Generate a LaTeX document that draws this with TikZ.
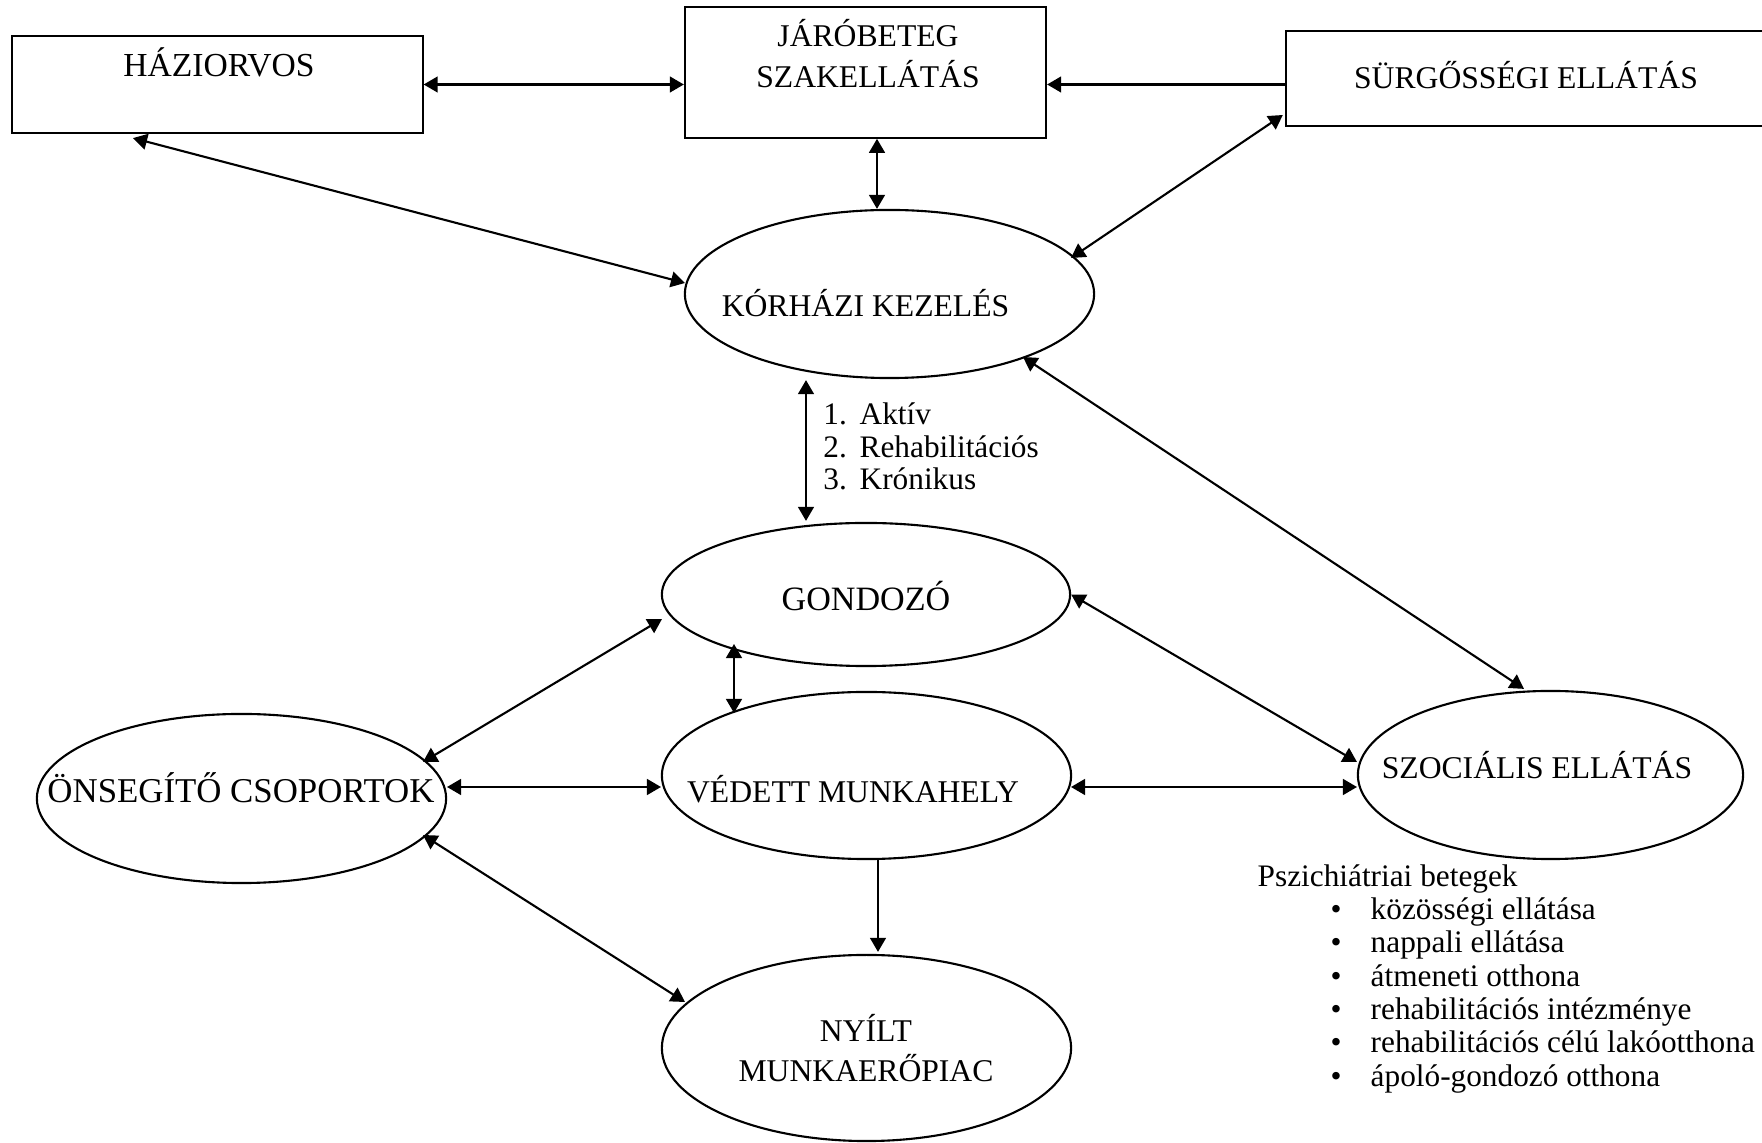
\documentclass[tikz,border=0pt]{standalone}
\usepackage{fontspec}
\setmainfont{Liberation Serif}
\usetikzlibrary{shapes.geometric,arrows.meta,calc}
\begin{document}
\begin{tikzpicture}[x=0.01cm,y=-0.01cm,
  box/.style={draw, line width=0.6pt, rectangle, inner sep=0pt},
  oval/.style={draw, line width=0.6pt, ellipse, inner sep=0pt},
  title/.style={font=\fontsize{9}{11}\selectfont, inner sep=0pt, anchor=base},
  bigtitle/.style={title, font=\fontsize{#1}{11}\selectfont},
  body/.style={font=\fontsize{8.9}{11}\selectfont, inner sep=0pt, anchor=base west},
  onearr/.style={line width=0.6pt, -{Triangle[length=4pt,width=4.5pt]}},
  twoarr/.style={line width=0.6pt, {Triangle[length=4pt,width=4.5pt]}-{Triangle[length=4pt,width=4.5pt]}}
]
\useasboundingbox (0,0) rectangle (1762,1143);

% boxes
\node[box, minimum width=4.1cm, minimum height=0.97cm] (haz) at (217.5,84.5) {};
\node[bigtitle=9.55] (hazt) at (219,77) {HÁZIORVOS};
\node[box, minimum width=3.61cm, minimum height=1.304cm] (jar) at (865.5,72.5) {};
\node[title] (jart1) at (868,46.7) {JÁRÓBETEG};
\node[title] (jart2) at (868,87.3) {SZAKELLÁTÁS};
\node[box, minimum width=4.84cm, minimum height=0.95cm] (sur) at (1528,78.5) {};
\node[title] (surt) at (1526,89) {SÜRGŐSSÉGI ELLÁTÁS};

% ellipses
\node[oval, minimum width=4.09cm, minimum height=1.68cm] (kor) at (889.5,294) {};
\node[title] (kort) at (865.5,317) {KÓRHÁZI KEZELÉS};
\node[oval, minimum width=4.08cm, minimum height=1.43cm] (gon) at (866,594.5) {};
\node[bigtitle=9.7] (gont) at (866,611) {GONDOZÓ};
\node[oval, minimum width=4.09cm, minimum height=1.67cm] (ved) at (866.5,775.5) {};
\node[title] (vedt) at (853,803) {VÉDETT MUNKAHELY};
\node[oval, minimum width=4.09cm, minimum height=1.69cm] (ons) at (241.5,798.5) {};
\node[bigtitle=9.9] (onst) at (241,803) {ÖNSEGÍTŐ CSOPORTOK};
\node[oval, minimum width=3.85cm, minimum height=1.68cm] (szo) at (1550.5,775) {};
\node[title] (szot) at (1537,779) {SZOCIÁLIS ELLÁTÁS};
\node[oval, minimum width=4.09cm, minimum height=1.86cm] (nyi) at (866.5,1048) {};
\node[title] (nyit1) at (866,1042) {NYÍLT};
\node[title] (nyit2) at (866,1082) {MUNKAERŐPIAC};

% lists
\node[body] (l1) at (822.7,425) {\makebox[0.363cm][l]{1.}Aktív};
\node[body] (l2) at (822.7,458) {\makebox[0.363cm][l]{2.}Rehabilitációs};
\node[body] (l3) at (822.7,490) {\makebox[0.363cm][l]{3.}Krónikus};

\node[body] (p0) at (1257,886.7) {Pszichiátriai betegek};
\node[body] (p1) at (1330,920) {\makebox[0.40cm][l]{•}közösségi ellátása};
\node[body] (p2) at (1330,953) {\makebox[0.40cm][l]{•}nappali ellátása};
\node[body] (p3) at (1330,987) {\makebox[0.40cm][l]{•}átmeneti otthona};
\node[body] (p4) at (1330,1020) {\makebox[0.40cm][l]{•}rehabilitációs intézménye};
\node[body] (p5) at (1330,1053) {\makebox[0.40cm][l]{•}rehabilitációs célú lakóotthona};
\node[body] (p6) at (1330,1087) {\makebox[0.40cm][l]{•}ápoló-gondozó otthona};

% connectors
\draw[twoarr] (haz.east) -- (haz.east -| jar.west);
\draw[onearr] (sur.west |- haz.east) -- (haz.east -| jar.east);
\draw[twoarr] ($(jar.south)+(11.5,0)$) -- ($(kor.north)+(-12.5,0)$);
\draw[twoarr] ($(haz.south)+(-84.5,4)$) -- ($(kor)+(-204.5,-11)$);
\draw[twoarr] ($(sur.west)+(-2,36.5)$) -- ($(kor)+(181.5,-36)$);
\draw[twoarr] ($(kor)+(133.5,63)$) -- ($(szo.north)+(-26.5,-1)$);
\draw[twoarr] ($(kor.south)+(-83.5,1)$) -- ($(gon.north)+(-60,-1)$);
\draw[twoarr] ($(gon)+(-204,24.5)$) -- ($(ons)+(181.5,-36.5)$);
\draw[twoarr] ($(gon)+(-132,49.5)$) -- ($(ved)+(-132.5,-62.5)$);
\draw[twoarr] (gon.east) -- ($(szo)+(-193.5,-13)$);
\draw[twoarr] ($(ons)+(205.5,-11.5)$) -- ($(ved)+(-205.5,11.5)$);
\draw[twoarr] ($(ved)+(204.5,11.5)$) -- ($(szo)+(-193.5,12)$);
\draw[onearr] ($(ved.south)+(11.5,0)$) -- ($(nyi.north)+(11.5,-2)$);
\draw[twoarr] ($(ons)+(181.5,36.5)$) -- ($(nyi)+(-181.5,-46)$);
\end{tikzpicture}
\end{document}
